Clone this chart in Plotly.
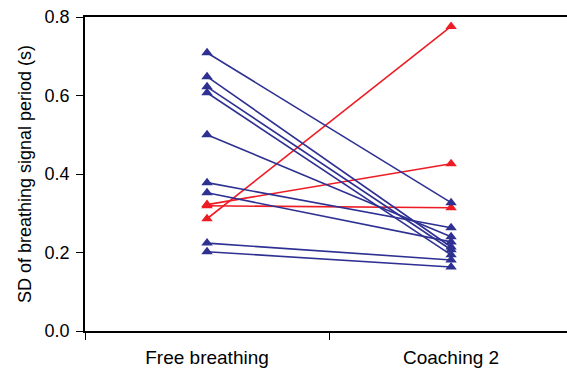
import plotly.graph_objects as go

# Conditions on the x axis
categories = ["Free breathing", "Coaching 2"]

# SD of breathing signal period (s), one pair per subject
free_navy = [0.709, 0.648, 0.622, 0.607, 0.500, 0.378, 0.352, 0.224, 0.202]
coach_navy = [0.327, 0.214, 0.207, 0.194, 0.240, 0.263, 0.227, 0.181, 0.163]

free_red = [0.286, 0.322, 0.319]
coach_red = [0.776, 0.426, 0.314]

NAVY = "#2E3192"
RED = "#ED1C24"


def paired(free, coach):
    xs, ys = [], []
    for a, b in zip(free, coach):
        xs += [categories[0], categories[1], None]
        ys += [a, b, None]
    return xs, ys


fig = go.Figure()
for free, coach, color in [(free_red, coach_red, RED), (free_navy, coach_navy, NAVY)]:
    xs, ys = paired(free, coach)
    fig.add_trace(go.Scatter(
        x=xs, y=ys, mode="lines+markers",
        line=dict(color=color, width=1.6),
        marker=dict(symbol="triangle-up", size=10, color=color),
        connectgaps=False, showlegend=False, hoverinfo="skip",
    ))

FAMILY = "Liberation Sans, Arial, sans-serif"

fig.update_layout(
    width=567, height=373,
    margin=dict(l=85, r=0, t=17, b=42),
    paper_bgcolor="white", plot_bgcolor="white",
    font=dict(family=FAMILY, size=17, color="black"),
    xaxis=dict(
        type="category", categoryorder="array", categoryarray=categories,
        range=[-0.5, 1.475], tickson="boundaries",
        ticks="outside", ticklen=7, tickcolor="black", tickwidth=1,
        showline=True, linecolor="black", linewidth=1.5, mirror=True,
        showgrid=False, zeroline=False, ticklabelstandoff=8,
        tickfont=dict(family=FAMILY, size=19, color="black"),
    ),
    yaxis=dict(
        range=[0, 0.8], dtick=0.2, tickformat=".1f",
        ticks="outside", ticklen=7, tickcolor="black", tickwidth=1,
        showline=True, linecolor="black", linewidth=1.5,
        showgrid=False, zeroline=False, ticklabelstandoff=3,
        title=dict(text="SD of breathing signal period (s)",
                   font=dict(family=FAMILY, size=18, color="black"), standoff=8),
        tickfont=dict(family=FAMILY, size=18, color="black"),
    ),
)

fig.write_html("out.html")
